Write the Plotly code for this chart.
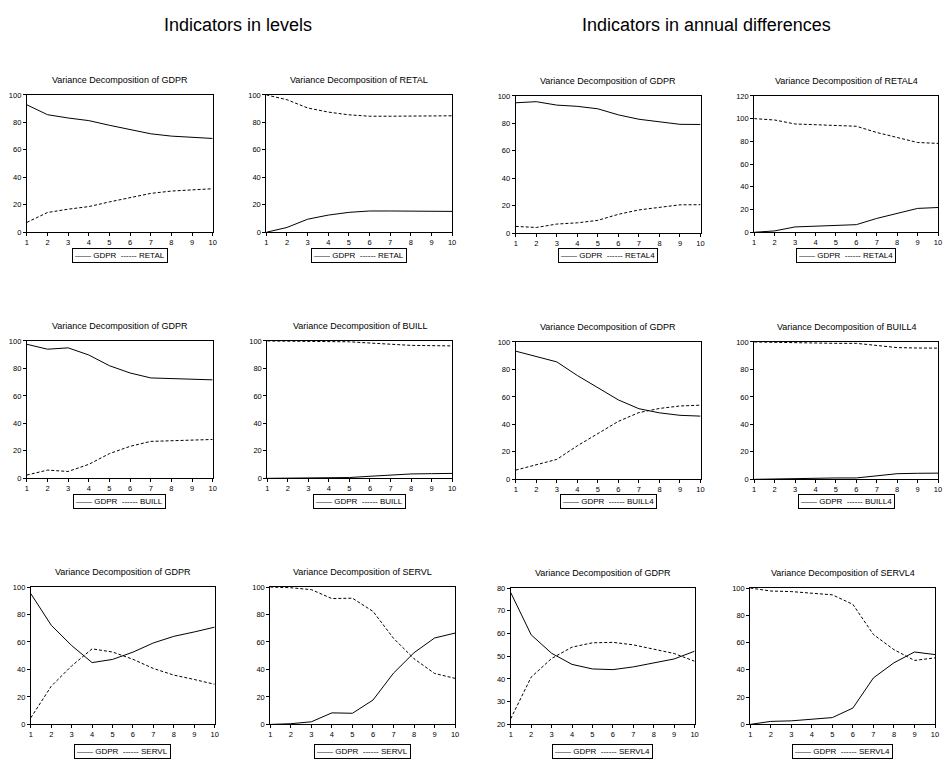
import plotly.graph_objects as go

W, H = 945, 763
steps = list(range(1, 11))

# ---- data (variance decomposition, %) ----
p1_gdpr = [92.8, 85.6, 83.2, 81.3, 77.9, 74.6, 71.7, 70.0, 69.0, 68.3]
p1_retal = [7.2, 14.4, 16.8, 18.7, 22.1, 25.4, 28.3, 30.0, 31.0, 31.7]
p2_gdpr = [0.0, 3.5, 9.5, 12.5, 14.5, 15.5, 15.5, 15.3, 15.2, 15.2]
p2_retal = [100.0, 96.5, 90.5, 87.5, 85.5, 84.5, 84.5, 84.7, 84.8, 84.8]
p3_gdpr = [95.0, 95.8, 93.3, 92.4, 90.6, 86.2, 83.0, 81.0, 79.3, 79.2]
p3_retal4 = [5.0, 4.2, 6.7, 7.6, 9.4, 13.8, 17.0, 19.0, 20.7, 20.8]
p4_gdpr = [0.0, 1.2, 4.7, 5.2, 6.1, 6.7, 12.2, 16.3, 21.0, 21.8]
p4_retal4 = [100.0, 98.8, 95.3, 94.8, 93.9, 93.3, 87.8, 83.7, 79.0, 78.2]

p5_gdpr = [97.6, 94.0, 95.0, 89.8, 82.0, 76.7, 73.1, 72.8, 72.4, 71.7]
p5_buill = [2.4, 6.0, 5.0, 10.2, 18.0, 23.3, 26.9, 27.2, 27.6, 28.3]
p6_gdpr = [0.0, 0.1, 0.3, 0.4, 0.6, 1.5, 2.5, 3.2, 3.4, 3.6]
p6_buill = [100.0, 99.9, 99.7, 99.6, 99.4, 98.5, 97.5, 96.8, 96.6, 96.4]
p7_gdpr = [93.3, 89.6, 85.5, 75.6, 66.5, 57.8, 51.4, 48.4, 46.6, 46.0]
p7_buill4 = [6.7, 10.4, 14.5, 24.4, 33.5, 42.2, 48.6, 51.6, 53.4, 54.0]
p8_gdpr = [0.0, 0.3, 0.8, 0.9, 1.0, 1.0, 2.8, 4.1, 4.4, 4.5]
p8_buill4 = [100.0, 99.7, 99.2, 99.1, 99.0, 99.0, 97.2, 95.9, 95.6, 95.5]

p9_gdpr = [95.2, 72.2, 57.4, 45.0, 47.3, 52.6, 59.3, 64.1, 67.3, 70.8]
p9_servl = [4.8, 27.8, 42.6, 55.0, 52.7, 47.4, 40.7, 35.9, 32.7, 29.2]
p10_gdpr = [0.0, 0.5, 1.9, 8.4, 8.1, 17.7, 37.3, 52.2, 62.9, 66.5]
p10_servl = [100.0, 99.5, 98.1, 91.6, 91.9, 82.3, 62.7, 47.8, 37.1, 33.5]
p11_gdpr = [78.0, 59.4, 51.3, 46.4, 44.4, 44.1, 45.3, 47.0, 48.8, 52.2]
p11_servl4 = [22.5, 40.8, 49.0, 54.0, 55.9, 56.1, 55.0, 53.2, 51.2, 47.8]
p12_gdpr = [0.0, 2.2, 2.6, 3.6, 5.0, 12.0, 34.1, 45.2, 53.1, 51.2]
p12_servl4 = [100.0, 97.8, 97.4, 96.4, 95.0, 88.0, 65.9, 54.8, 46.9, 48.8]

titles = ["GDPR", "RETAL", "GDPR", "RETAL4",
          "GDPR", "BUILL", "GDPR", "BUILL4",
          "GDPR", "SERVL", "GDPR", "SERVL4"]
second_names = ["RETAL", "RETAL", "RETAL4", "RETAL4",
                "BUILL", "BUILL", "BUILL4", "BUILL4",
                "SERVL", "SERVL", "SERVL4", "SERVL4"]
solid_series = [p1_gdpr, p2_gdpr, p3_gdpr, p4_gdpr, p5_gdpr, p6_gdpr,
                p7_gdpr, p8_gdpr, p9_gdpr, p10_gdpr, p11_gdpr, p12_gdpr]
dash_series = [p1_retal, p2_retal, p3_retal4, p4_retal4, p5_buill, p6_buill,
               p7_buill4, p8_buill4, p9_servl, p10_servl, p11_servl4, p12_servl4]
y_ranges = [[0, 100], [0, 100], [0, 100], [0, 120],
            [0, 100], [0, 100], [0, 100], [0, 100],
            [0, 100], [0, 100], [20, 80], [0, 100]]
y_dticks = [20, 20, 20, 20, 20, 20, 20, 20, 20, 20, 10, 20]

# panel plot areas in pixels: (left, right, top, bottom)
boxes = [(25, 212, 92, 231), (266, 453, 92, 231), (517, 703, 93, 232), (757, 942, 93, 231),
         (25, 212, 341, 480), (267, 453, 341, 480), (517, 703, 342, 481), (757, 942, 342, 481),
         (29, 214, 590, 729), (270, 456, 590, 729), (512, 697, 591, 729), (753, 939, 591, 729)]
legend_y = [254, 254, 254, 254, 503, 503, 503, 503, 756, 756, 756, 756]

FONT = "Liberation Sans, Arial, sans-serif"
fig = go.Figure()
layout = dict(width=W, height=H, margin=dict(l=0, r=0, t=0, b=0),
              paper_bgcolor="white", plot_bgcolor="white", showlegend=False,
              font=dict(family=FONT, color="black"))
annotations = []

for i in range(12):
    n = i + 1
    sfx = "" if n == 1 else str(n)
    l, r, t, b = boxes[i]
    fig.add_trace(go.Scatter(x=steps, y=solid_series[i], mode="lines", name="GDPR",
                             line=dict(color="black", width=1),
                             xaxis="x" + sfx, yaxis="y" + sfx))
    fig.add_trace(go.Scatter(x=steps, y=dash_series[i], mode="lines", name=second_names[i],
                             line=dict(color="black", width=1, dash="3px,2px"),
                             xaxis="x" + sfx, yaxis="y" + sfx))
    layout["xaxis" + sfx] = dict(domain=[l / W, r / W], range=[1, 10], anchor="y" + sfx,
                                 tickvals=steps, ticks="outside", ticklen=3, tickwidth=1,
                                 tickcolor="black", showgrid=False, zeroline=False,
                                 showline=True, linecolor="black", linewidth=1, mirror=True,
                                 tickfont=dict(size=7.5, family=FONT), fixedrange=True)
    layout["yaxis" + sfx] = dict(domain=[1 - b / H, 1 - t / H], range=y_ranges[i],
                                 anchor="x" + sfx, dtick=y_dticks[i], ticks="outside",
                                 ticklen=3, tickwidth=1, tickcolor="black", showgrid=False,
                                 zeroline=False, showline=True, linecolor="black",
                                 linewidth=1, mirror=True,
                                 tickfont=dict(size=7.5, family=FONT), fixedrange=True)
    # legend box (line samples + series names)
    annotations.append(dict(text="\u2014\u2014 GDPR  ------ " + second_names[i],
                            x=(l + r) / 2 / W, y=1 - legend_y[i] / H, xref="paper",
                            yref="paper", showarrow=False, xanchor="center",
                            yanchor="middle", bordercolor="black", borderwidth=1,
                            borderpad=2, bgcolor="white",
                            font=dict(size=8, family=FONT)))
    annotations.append(dict(text="Variance Decomposition of " + titles[i],
                            x=(l + r) / 2 / W, y=1 - (t - 15) / H, xref="paper",
                            yref="paper", showarrow=False, xanchor="center",
                            yanchor="middle", font=dict(size=9, family=FONT)))

annotations.append(dict(text="Indicators in levels", x=238 / W, y=1 - 21 / H,
                        xref="paper", yref="paper", showarrow=False, xanchor="center",
                        yanchor="middle", font=dict(size=18, family=FONT)))
annotations.append(dict(text="Indicators in annual differences", x=709 / W, y=1 - 21 / H,
                        xref="paper", yref="paper", showarrow=False, xanchor="center",
                        yanchor="middle", font=dict(size=18, family=FONT)))
layout["annotations"] = annotations
fig.update_layout(**layout)
fig.write_html("out.html")
